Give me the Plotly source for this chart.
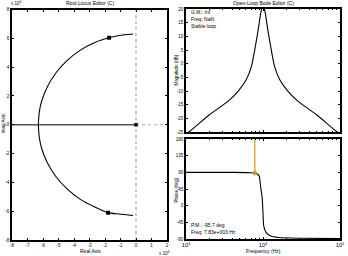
import plotly.graph_objects as go

# ---------------- data ----------------
# Root locus (units of 1e4)
rl_upper_re = [-0.19, -1.09, -1.74, -2.66, -3.61, -4.45, -5.16, -5.71, -6.09, -6.24, -6.3]
rl_upper_im = [6.3, 6.2, 6.04, 5.71, 5.16, 4.45, 3.61, 2.66, 1.63, 0.88, 0.0]
rl_lower_re = [-6.3, -6.24, -6.09, -5.71, -5.16, -4.45, -3.61, -2.66, -1.8, -1.09, -0.19]
rl_lower_im = [0.0, -0.88, -1.63, -2.66, -3.61, -4.45, -5.16, -5.71, -6.1, -6.2, -6.3]
rl_axis_re = [-8.5, 0.0]
rl_axis_im = [0.0, 0.0]
cl_poles_re = [-1.74, -1.8]
cl_poles_im = [6.04, -6.1]
ol_pole_re = [0.0]
ol_pole_im = [0.0]
rl_xticks = [-8, -7, -6, -5, -4, -3, -2, -1, 0, 1, 2]
rl_yticks = [-8, -6, -4, -2, 0, 2, 4, 6, 8]

# Bode magnitude
mag_freq = [1000, 1096, 1995, 3467, 4677, 6026, 7079, 8511, 9333, 10000,
            10715, 11749, 14125, 16596, 21380, 28840, 50119, 91201, 100000]
mag_db = [-25.5, -24.9, -18.8, -13.9, -10.3, -6.0, -1.0, 11.1, 18.4, 22.0,
          18.4, 11.1, -1.0, -6.0, -10.3, -13.9, -18.8, -24.9, -25.5]
mag_yticks = [-25, -20, -15, -10, -5, 0, 5, 10, 15, 20]

# Bode phase
ph_freq = [1000, 3981, 7079, 8318, 8913, 9333, 9772, 10000, 10233, 10965,
           12589, 15849, 31623, 100000]
ph_deg = [90, 90, 89, 86, 80, 50, 20, -20, -55, -72, -82, -86, -88, -89]
ph_yticks = [-90, -45, 0, 45, 90, 135, 180]
pm_freq = [7830]
pm_phase = [88]
pm_line_phase = [88, 180]

# ---------------- figure ----------------
W, H = 348, 256
def px_x(a, b):
    return [a / W, b / W]
def px_y(top, bottom):
    return [(H - bottom) / H, (H - top) / H]

FONT = "Liberation Sans"
fig = go.Figure()

# root locus
fig.add_trace(go.Scatter(x=rl_axis_re, y=rl_axis_im, mode="lines",
                         line=dict(color="#555555", width=1.6), xaxis="x", yaxis="y"))
fig.add_trace(go.Scatter(x=rl_upper_re, y=rl_upper_im, mode="lines",
                         line=dict(color="black", width=1.1, shape="spline", smoothing=0.8),
                         xaxis="x", yaxis="y"))
fig.add_trace(go.Scatter(x=rl_lower_re, y=rl_lower_im, mode="lines",
                         line=dict(color="black", width=1.1, shape="spline", smoothing=0.8),
                         xaxis="x", yaxis="y"))
fig.add_trace(go.Scatter(x=cl_poles_re, y=cl_poles_im, mode="markers",
                         marker=dict(symbol="square", size=4, color="black"), xaxis="x", yaxis="y"))
fig.add_trace(go.Scatter(x=ol_pole_re, y=ol_pole_im, mode="markers",
                         marker=dict(symbol="square", size=3.5, color="black"), xaxis="x", yaxis="y"))

# magnitude
fig.add_trace(go.Scatter(x=mag_freq, y=mag_db, mode="lines",
                         line=dict(color="black", width=1.1, shape="spline", smoothing=0.6),
                         xaxis="x2", yaxis="y2"))
# phase
fig.add_trace(go.Scatter(x=ph_freq, y=ph_deg, mode="lines",
                         line=dict(color="black", width=1.1, shape="spline", smoothing=0.6),
                         xaxis="x3", yaxis="y3"))
fig.add_trace(go.Scatter(x=[pm_freq[0], pm_freq[0]], y=pm_line_phase, mode="lines",
                         line=dict(color="#d9961a", width=1.2), xaxis="x3", yaxis="y3"))
fig.add_trace(go.Scatter(x=pm_freq, y=pm_phase, mode="markers",
                         marker=dict(size=4.5, color="#d9961a"), xaxis="x3", yaxis="y3"))

tickfont = dict(family=FONT, size=4.5, color="black")
common = dict(showline=True, linecolor="black", linewidth=1.6, mirror="allticks",
              ticks="inside", ticklen=2.5, tickcolor="black", tickwidth=0.8,
              showgrid=False, zeroline=False, tickfont=tickfont, automargin=False)

fig.update_layout(
    width=W, height=H, margin=dict(l=0, r=0, t=0, b=0),
    paper_bgcolor="white", plot_bgcolor="white", showlegend=False,
    font=dict(family=FONT, size=5, color="black"),
    xaxis=dict(domain=px_x(12, 167), range=[-8, 2], tickvals=rl_xticks,
               ticktext=[str(v) for v in rl_xticks], anchor="y", **common),
    yaxis=dict(domain=px_y(9.5, 240), range=[-8, 8], tickvals=rl_yticks,
               ticktext=[str(v) for v in rl_yticks], anchor="x", **common),
    xaxis2=dict(domain=px_x(186, 340), type="log", range=[3, 5], dtick=1,
                showticklabels=False, anchor="y2",
                minor=dict(ticks="inside", ticklen=1.5, tickcolor="black", tickwidth=0.6),
                **common),
    yaxis2=dict(domain=px_y(9, 132), range=[-25, 20], tickvals=mag_yticks,
                ticktext=[str(v) for v in mag_yticks], anchor="x2", **common),
    xaxis3=dict(domain=px_x(186, 340), type="log", range=[3, 5], dtick=1,
                exponentformat="power", anchor="y3",
                minor=dict(ticks="inside", ticklen=1.5, tickcolor="black", tickwidth=0.6),
                **common),
    yaxis3=dict(domain=px_y(139, 239), range=[-90, 180], tickvals=ph_yticks,
                ticktext=[str(v) for v in ph_yticks], anchor="x3", **common),
)

# dotted reference lines in root locus
fig.add_shape(type="line", xref="x", yref="y", x0=0, x1=0, y0=-8, y1=8,
              line=dict(color="#777777", width=0.8, dash="dot"), layer="below")
fig.add_shape(type="line", xref="x", yref="y", x0=0, x1=2, y0=0, y1=0,
              line=dict(color="#999999", width=0.8, dash="dot"), layer="below")

def ann(x, y, text, size=5, angle=0, xanchor="center"):
    fig.add_annotation(x=x / W, y=(H - y) / H, xref="paper", yref="paper", text=text,
                       showarrow=False, textangle=angle, xanchor=xanchor, yanchor="middle",
                       font=dict(family=FONT, size=size, color="black"))

ann(90, 3, "Root Locus Editor (C)", size=5)
ann(263, 3, "Open-Loop Bode Editor (C)", size=5)
ann(2.5, 124, "Imag Axis", size=4.5, angle=-90)
ann(90, 251, "Real Axis")
ann(175.5, 70, "Magnitude (dB)", size=4.5, angle=-90)
ann(175.5, 190, "Phase (deg)", size=4.5, angle=-90)
ann(263, 251, "Frequency (Hz)")
ann(9, 3, "x 10<sup>4</sup>", size=4.5, xanchor="left")
ann(157, 253, "x 10<sup>4</sup>", size=4.5, xanchor="left")
ann(189, 12, "G.M.: Inf", xanchor="left")
ann(189, 19, "Freq: NaN", xanchor="left")
ann(189, 26, "Stable loop", xanchor="left")
ann(189, 225, "P.M.: -95.7 deg", xanchor="left")
ann(189, 232, "Freq: 7.83e+003 Hz", xanchor="left")

fig.write_html("out.html")
